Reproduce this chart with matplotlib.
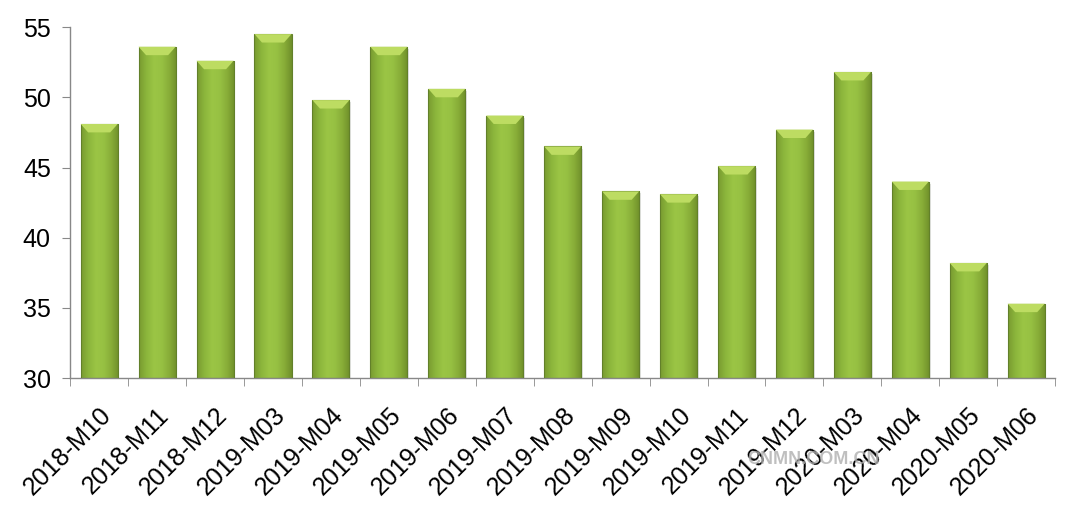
import numpy as np
import matplotlib.pyplot as plt
from matplotlib.colors import LinearSegmentedColormap
from matplotlib.patches import Polygon

plt.rcParams['font.family'] = ['Liberation Sans', 'DejaVu Sans']

months = ['2018-M10', '2018-M11', '2018-M12', '2019-M03', '2019-M04', '2019-M05',
          '2019-M06', '2019-M07', '2019-M08', '2019-M09', '2019-M10', '2019-M11',
          '2019-M12', '2020-M03', '2020-M04', '2020-M05', '2020-M06']
values = [48.1, 53.6, 52.6, 54.5, 49.8, 53.6, 50.6, 48.7, 46.5, 43.3, 43.1,
          45.1, 47.7, 51.8, 44.0, 38.2, 35.3]

fig = plt.figure(figsize=(10.8, 5.11), dpi=100)
ax = fig.add_axes([0.065, 0.26, 0.912, 0.687])

x = np.arange(len(months))
width = 0.64
ymin = 30

bars = ax.bar(x, np.array(values) - ymin, width, bottom=ymin, color='none',
              edgecolor='#62802a', linewidth=0.8, zorder=3)

# soft horizontal gradient, a bit darker at the edges
cmap = LinearSegmentedColormap.from_list(
    'grn', ['#799b30', '#8cb63c', '#9bc545', '#97c143', '#88ad38', '#6f8f2a'])
grad = np.linspace(0, 1, 200).reshape(1, -1)

for b in bars:
    x0, y0 = b.get_x(), b.get_y()
    w, h = b.get_width(), b.get_height()
    im = ax.imshow(grad, cmap=cmap, aspect='auto', extent=[x0, x0 + w, y0, y0 + h],
                   zorder=2, interpolation='bicubic')
    im.set_clip_path(b)
    # light shadow on the right
    ax.add_patch(plt.Rectangle((x0 + w, y0), 0.03, h - 0.15, color='#d0d0d0',
                               alpha=0.6, zorder=1, lw=0))
    # bevel on top
    bev = 0.6
    inset = 0.13
    ax.add_patch(Polygon([(x0, y0 + h), (x0 + w, y0 + h), (x0 + w - inset, y0 + h - bev),
                          (x0 + inset, y0 + h - bev)], closed=True,
                         facecolor='#bddc62', edgecolor='none', zorder=4))

ax.set_xlim(-0.5, len(months) - 0.5)
ax.set_ylim(30, 55)
ax.set_yticks([30, 35, 40, 45, 50, 55])

ax.set_xticks(x)
ax.set_xticklabels(months, rotation=45, ha='right', rotation_mode='anchor', fontsize=18)
ax.set_xticks(np.arange(-0.5, len(months), 1), minor=True)
ax.tick_params(axis='x', which='major', length=0, pad=18)
ax.tick_params(axis='x', which='minor', length=6, color='#888888', direction='out')
ax.tick_params(axis='y', labelsize=18, length=6, color='#888888', pad=8)

for s in ['top', 'right']:
    ax.spines[s].set_visible(False)
for s in ['left', 'bottom']:
    ax.spines[s].set_color('#888888')
    ax.spines[s].set_linewidth(1)

fig.text(0.753, 0.1, 'CNMN.COM.CN', fontsize=13, color='#b0b0b0', ha='center',
         va='center', fontweight='bold', alpha=0.8)

fig.savefig('out.png', dpi=100)
